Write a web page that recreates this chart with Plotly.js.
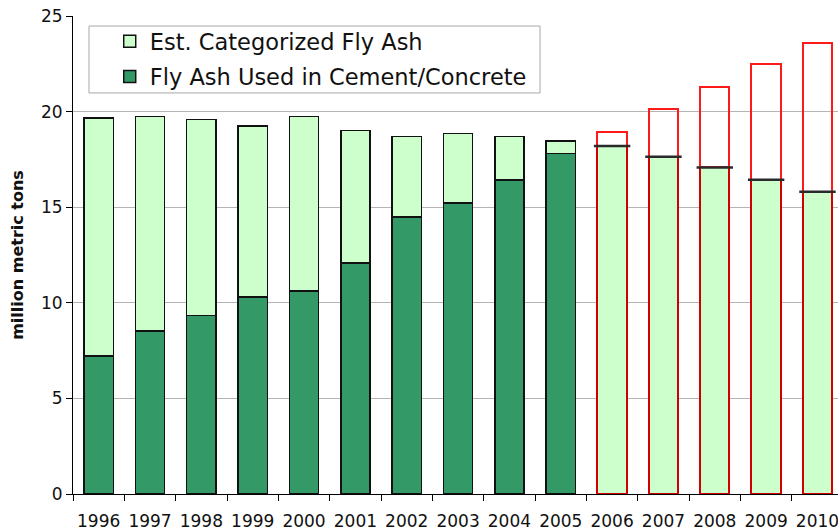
<!DOCTYPE html>
<html>
<head>
<meta charset="utf-8">
<script src="https://cdn.plot.ly/plotly-3.0.1.min.js"></script>
<style>html,body{margin:0;padding:0;background:#fff;}#chart{width:838px;height:531px;}</style>
</head>
<body>
<div id="chart"></div>
<script>
// Historical years
const histYears = ["1996","1997","1998","1999","2000","2001","2002","2003","2004","2005"];
const usedCement = [7.23, 8.53, 9.33, 10.30, 10.62, 12.08, 14.49, 15.22, 16.42, 17.80];
const totalCategorized = [19.67, 19.75, 19.58, 19.26, 19.74, 19.00, 18.69, 18.85, 18.69, 18.45];
// Projected years
const projYears = ["2006","2007","2008","2009","2010"];
const projUsed = [18.20, 17.64, 17.08, 16.44, 15.81];
const projTotal = [18.93, 20.14, 21.27, 22.49, 23.60];
const allYears = histYears.concat(projYears);

const histRemainder = totalCategorized.map((t, i) => +(t - usedCement[i]).toFixed(2));
const projRemainder = projTotal.map((t, i) => +(t - projUsed[i]).toFixed(2));

const traces = [
  {type: 'bar', name: 'Fly Ash Used in Cement/Concrete', x: histYears, y: usedCement,
   legendgroup: 'b', legendrank: 2,
   marker: {color: '#339966', line: {color: '#111', width: 1.5}}},
  {type: 'bar', name: 'Est. Categorized Fly Ash', x: histYears, y: histRemainder,
   legendgroup: 'a', legendrank: 1,
   marker: {color: '#CCFFCC', line: {color: '#111', width: 1.5}}},
  {type: 'bar', name: 'Projected use', x: projYears, y: projUsed, showlegend: false,
   marker: {color: '#CCFFCC', line: {color: '#D00000', width: 2}}},
  {type: 'bar', name: 'Projected categorized', x: projYears, y: projRemainder, showlegend: false,
   marker: {color: 'rgba(255,255,255,0)', line: {color: '#FF1A1A', width: 2}}},
  {type: 'scatter', mode: 'markers', x: projYears, y: projUsed, showlegend: false, hoverinfo: 'skip',
   marker: {symbol: 'line-ew-open', size: 26, color: '#2a2a2a', line: {color: '#2a2a2a', width: 2.5}}}
];

const layout = {
  width: 838, height: 531,
  margin: {l: 73, r: 0, t: 16, b: 37},
  paper_bgcolor: '#fff', plot_bgcolor: '#fff',
  barmode: 'stack', bargap: 0.43,
  font: {family: 'DejaVu Sans, Verdana, sans-serif', color: '#111'},
  showlegend: true,
  shapes: [{type: 'rect', xref: 'paper', yref: 'paper', x0: 0.0209, x1: 0.6105, y0: 0.839, y1: 0.979,
            fillcolor: '#fff', line: {color: '#A8A8A8', width: 1}, layer: 'below'}],
  legend: {x: 0.048, y: 0.9916, xanchor: 'left', yanchor: 'top',
           bgcolor: 'rgba(0,0,0,0)', borderwidth: 0,
           font: {size: 22.5, color: '#111'}, traceorder: 'grouped', tracegroupgap: 3},
  xaxis: {type: 'category', categoryorder: 'array', categoryarray: allYears,
          range: [-0.5, 14.4], tickson: 'boundaries', ticks: 'outside', ticklen: 6, tickangle: 0,
          ticklabelstandoff: 12,
          tickcolor: '#000', showline: true, linecolor: '#000', linewidth: 1,
          showgrid: false, tickfont: {size: 17, color: '#111'}, fixedrange: true},
  yaxis: {range: [0, 25], dtick: 5, tick0: 0, ticks: 'outside', ticklen: 6, tickcolor: '#000',
          showline: true, linecolor: '#000', linewidth: 1, showgrid: true, gridcolor: '#B4B4B4',
          zeroline: false, tickfont: {size: 17, color: '#111'},
          title: {text: '<b>million metric tons</b>', font: {size: 16, color: '#111'}, standoff: 13},
          fixedrange: true}
};

Plotly.newPlot('chart', traces, layout, {displayModeBar: false, staticPlot: true});
</script>
</body>
</html>
